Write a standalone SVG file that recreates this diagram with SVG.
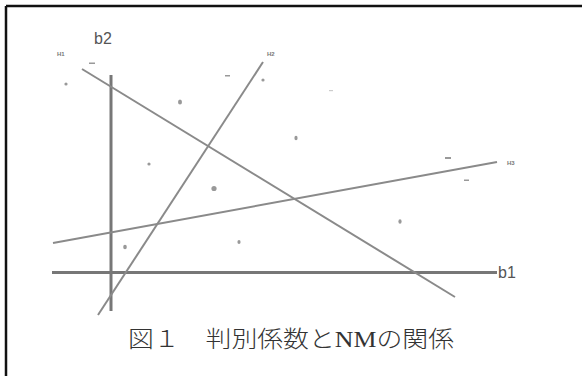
<svg xmlns="http://www.w3.org/2000/svg" width="582" height="376" viewBox="0 0 582 376">
<style>
.frame{stroke:#111;stroke-width:2.5;fill:none}
.axis{stroke:#777;stroke-width:3;fill:none}
.line{stroke:#8a8a8a;stroke-width:2;fill:none}
.ax{font-family:"Liberation Sans",Arial,sans-serif;font-size:16px;fill:#555}
.hl{font-family:"Liberation Sans",Arial,sans-serif;font-size:6px;fill:#777;font-weight:bold}
.pt{fill:#999}
.cap{font-family:"Liberation Serif","Noto Sans CJK JP",serif;font-size:23px;font-weight:300;fill:#333}
</style>
<rect width="582" height="376" fill="#fff"/>
<g id="frame">
<line class="frame" x1="6" y1="6" x2="582" y2="6"/>
<line class="frame" x1="6" y1="6" x2="6" y2="376"/>
</g>
<g id="connectors">
<line id="axis-b2" class="axis" x1="111" y1="75" x2="111" y2="311"/>
<line id="axis-b1" class="axis" x1="52" y1="272.5" x2="497" y2="272.5"/>
<line id="H1" class="line" x1="82" y1="69" x2="455" y2="297"/>
<line id="H2" class="line" x1="263" y1="62" x2="98" y2="315"/>
<line id="H3" class="line" x1="53" y1="243" x2="497" y2="162"/>
</g>
<g id="label-b2"><text class="ax" x="94" y="44">b2</text></g>
<g id="label-b1"><text class="ax" x="498" y="278">b1</text></g>
<g id="label-H1"><text class="hl" x="57" y="56">H1</text></g>
<g id="label-H2"><text class="hl" x="267" y="56">H2</text></g>
<g id="label-H3"><text class="hl" x="507" y="165">H3</text></g>
<g id="points">
<rect class="pt" x="89" y="62.5" width="6" height="1.5"/>
<circle class="pt" cx="66" cy="84" r="1.6"/>
<rect class="pt" x="225" y="75" width="5" height="1.5"/>
<circle class="pt" cx="263" cy="80" r="1.6"/>
<ellipse class="pt" cx="180" cy="102" rx="2" ry="2.5"/>
<circle class="pt" cx="149" cy="164" r="1.6"/>
<circle class="pt" cx="214" cy="188.5" r="2.6"/>
<ellipse class="pt" cx="296" cy="138" rx="1.6" ry="2.2"/>
<rect fill="#ccc" x="329" y="90" width="4" height="1.2"/>
<rect class="pt" x="445" y="157" width="6" height="2"/>
<rect class="pt" x="464" y="179.5" width="5" height="1.5"/>
<ellipse class="pt" cx="400" cy="221.5" rx="1.6" ry="2.2"/>
<ellipse class="pt" cx="125" cy="247" rx="1.8" ry="2.3"/>
<ellipse class="pt" cx="239" cy="242" rx="1.6" ry="2"/>
</g>
<g id="caption"><text class="cap" x="291" y="347" text-anchor="middle" textLength="326" lengthAdjust="spacingAndGlyphs">図１　判別係数とNMの関係</text></g>
</svg>
